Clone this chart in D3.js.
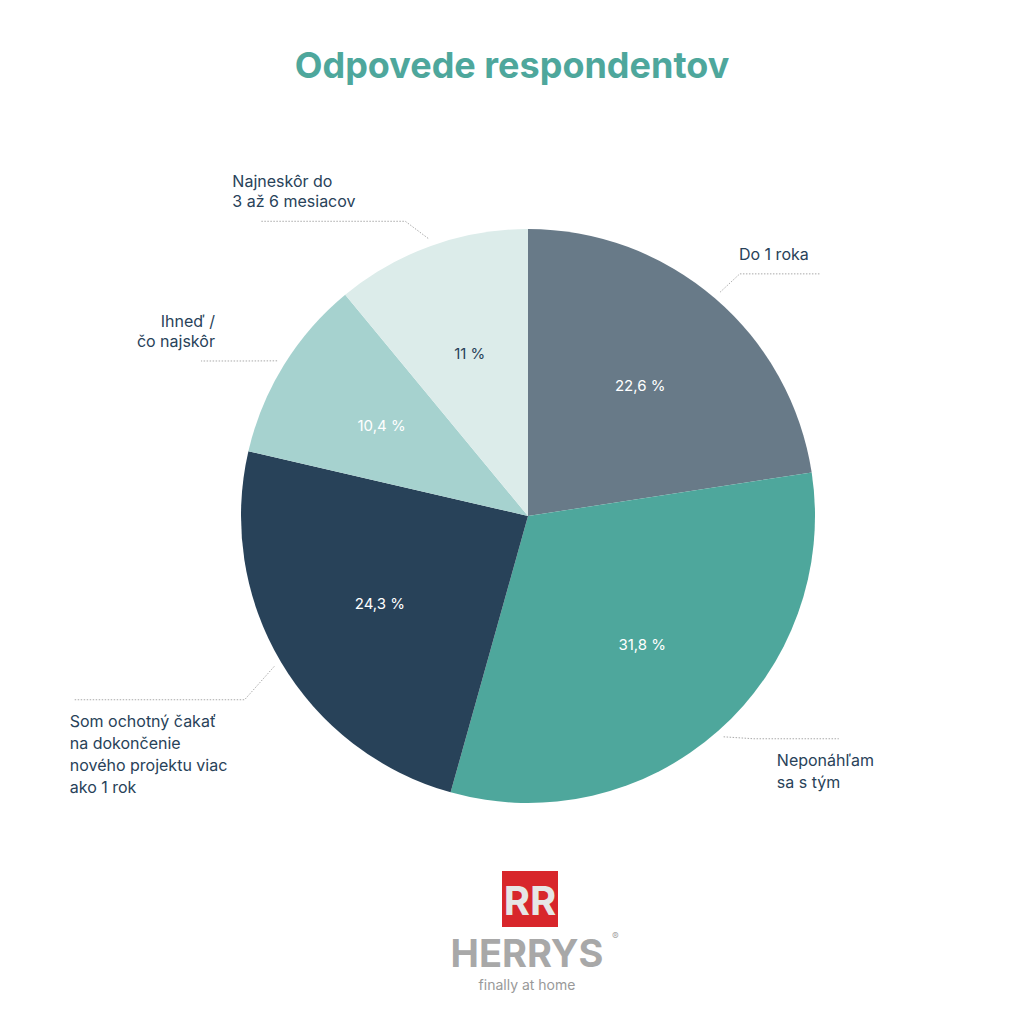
<!DOCTYPE html><html><head><meta charset="utf-8"><script src="https://cdn.jsdelivr.net/npm/d3@7"></script>
<style>body{margin:0;background:#fff}text{font-family:Inter,"Noto Sans",sans-serif}</style></head><body>
<svg id="c" width="1024" height="1024"></svg>
<script>
const categories=["Do 1 roka","Neponáhľam sa s tým","Som ochotný čakať na dokončenie nového projektu viac ako 1 rok","Ihneď / čo najskôr","Najneskôr do 3 až 6 mesiacov"];
const labelLines=[["Do 1 roka"],["Neponáhľam","sa s tým"],["Som ochotný čakať","na dokončenie","nového projektu viac","ako 1 rok"],["Ihneď /","čo najskôr"],["Najneskôr do","3 až 6 mesiacov"]];
const values=[22.6,31.8,24.3,10.4,11];
const valueLabels=["22,6 %","31,8 %","24,3 %","10,4 %","11 %"];
const colors=["#687a88","#4ea79c","#284259","#a6d2cf","#dcecea"];
const svg=d3.select("#c");
const cx=528,cy=516,R=287;
svg.append("text").attr("x",512).attr("y",78).attr("text-anchor","middle").attr("font-size",36).attr("font-weight",700).attr("fill","#4ea79c").text("Odpovede respondentov");
const pie=d3.pie().sort(null).value(d=>d)(values);
const g=svg.append("g").attr("transform",`translate(${cx},${cy})`);
const arc=d3.arc().innerRadius(0).outerRadius(R);
g.selectAll("path").data(pie).join("path").attr("d",arc).attr("fill",(d,i)=>colors[i]);
const inner=d3.arc().innerRadius(0).outerRadius(R*1.2);
g.selectAll("text.v").data(pie).join("text").attr("class","v").attr("transform",d=>`translate(${inner.centroid(d)})`)
 .attr("text-anchor","middle").attr("dy","0.35em").attr("font-size",15).attr("fill",(d,i)=>i==4?"#284259":"#fff").text((d,i)=>valueLabels[i]);
const cfg=[{h:80,dir:1,above:true,dx:-4,dy:6},{h:85,dir:1,above:false,dx:30,dy:-22},{h:170,dir:-1,above:false,dx:-7,dy:17},{h:45,dir:-1,above:true,dx:-13,dy:17},{h:145,dir:-1,above:true,dx:-40,dy:13}];
const lg=g.append("g");
pie.forEach((d,i)=>{
 const a=(d.startAngle+d.endAngle)/2;
 const c=cfg[i];
 const p0=[Math.sin(a)*(R+8),-Math.cos(a)*(R+8)];
 const p1=[Math.sin(a)*(R+40)+c.dx*0.3,-Math.cos(a)*(R+40)+c.dy];
 const p2=[p1[0]+c.dir*c.h,p1[1]];
 lg.append("polyline").attr("points",[p0,p1,p2].map(p=>p.join(",")).join(" ")).attr("fill","none").attr("stroke","#aaa").attr("stroke-width",1).attr("stroke-dasharray","1.5,1.5");
 const lines=labelLines[i];
 let tx=c.dir>0?p1[0]+2:p2[0];
 if(i==3) tx=p1[0]-22;
 tx+=c.dx*0.7;
 const t=lg.append("text").attr("font-size",16).attr("fill","#284259").attr("text-anchor",i==3?"end":"start");
 lines.forEach((l,k)=>{
  const y=c.above? p1[1]-14-(lines.length-1-k)*20 : p1[1]+27+k*22;
  t.append("tspan").attr("x",tx).attr("y",y).text(l);
 });
});
svg.append("rect").attr("x",502).attr("y",871).attr("width",56).attr("height",56).attr("fill","#d8262b");
svg.append("text").attr("x",530).attr("y",915).attr("text-anchor","middle").attr("font-size",40).attr("font-weight",700).attr("fill","#e6e6e6").attr("font-family","Liberation Sans").text("RR");
svg.append("text").attr("x",527).attr("y",967).attr("text-anchor","middle").attr("font-size",38).attr("font-weight",700).attr("fill","#a8a8a8").attr("font-family","Liberation Sans").text("HERRYS");
svg.append("text").attr("x",612).attr("y",940).attr("font-size",10).attr("fill","#a8a8a8").text("®");
svg.append("text").attr("x",527).attr("y",990).attr("text-anchor","middle").attr("font-size",14).attr("fill","#999").text("finally at home");
</script></body></html>
